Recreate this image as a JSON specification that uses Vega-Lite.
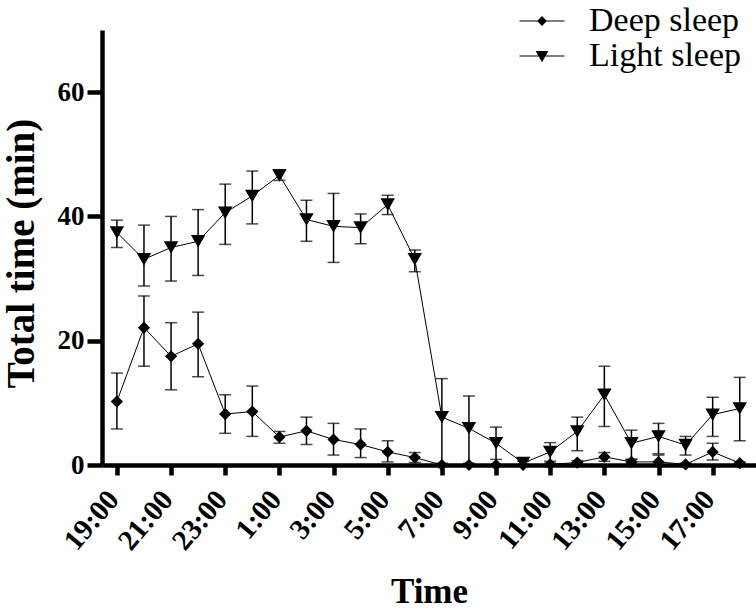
{
  "$schema": "https://vega.github.io/schema/vega-lite/v6.json",
  "width": 654,
  "height": 435,
  "autosize": {"type": "none"},
  "padding": {"left": 102, "top": 30, "right": 0, "bottom": 145},
  "background": "white",
  "config": {
    "font": "Liberation Serif",
    "view": {"stroke": null},
    "axis": {
      "labelFont": "Liberation Serif",
      "labelFontWeight": "bold",
      "labelFontSize": 27,
      "labelColor": "black",
      "titleFont": "Liberation Serif",
      "titleFontWeight": "bold",
      "titleColor": "black",
      "domainColor": "black",
      "domainWidth": 4.5,
      "tickColor": "black",
      "tickWidth": 4.5,
      "grid": false
    },
    "legend": {
      "labelFont": "Liberation Serif",
      "labelFontWeight": "normal",
      "labelFontSize": 34,
      "labelColor": "black"
    }
  },
  "data": {
    "values": [
      {"series": "Deep sleep", "t": 0, "v": 10.2, "lo": 5.8, "hi": 14.8},
      {"series": "Deep sleep", "t": 1, "v": 22.1, "lo": 15.9, "hi": 27.2},
      {"series": "Deep sleep", "t": 2, "v": 17.5, "lo": 12.1, "hi": 22.9},
      {"series": "Deep sleep", "t": 3, "v": 19.5, "lo": 14.2, "hi": 24.6},
      {"series": "Deep sleep", "t": 4, "v": 8.2, "lo": 5.1, "hi": 11.3},
      {"series": "Deep sleep", "t": 5, "v": 8.6, "lo": 4.6, "hi": 12.7},
      {"series": "Deep sleep", "t": 6, "v": 4.5, "lo": 3.5, "hi": 5.4},
      {"series": "Deep sleep", "t": 7, "v": 5.5, "lo": 3.3, "hi": 7.7},
      {"series": "Deep sleep", "t": 8, "v": 4.1, "lo": 1.6, "hi": 6.7},
      {"series": "Deep sleep", "t": 9, "v": 3.3, "lo": 1.2, "hi": 5.8},
      {"series": "Deep sleep", "t": 10, "v": 2.1, "lo": 0.5, "hi": 3.9},
      {"series": "Deep sleep", "t": 11, "v": 1.2, "lo": 0.4, "hi": 2.0},
      {"series": "Deep sleep", "t": 12, "v": 0, "lo": 0, "hi": 0},
      {"series": "Deep sleep", "t": 13, "v": 0, "lo": 0, "hi": 0},
      {"series": "Deep sleep", "t": 14, "v": 0, "lo": 0, "hi": 0},
      {"series": "Deep sleep", "t": 15, "v": 0, "lo": 0, "hi": 0},
      {"series": "Deep sleep", "t": 16, "v": 0.1, "lo": 0, "hi": 0.3},
      {"series": "Deep sleep", "t": 17, "v": 0.4, "lo": 0.1, "hi": 0.7},
      {"series": "Deep sleep", "t": 18, "v": 1.3, "lo": 0.6, "hi": 2.0},
      {"series": "Deep sleep", "t": 19, "v": 0.5, "lo": 0.1, "hi": 0.9},
      {"series": "Deep sleep", "t": 20, "v": 0.5, "lo": 0, "hi": 1.6},
      {"series": "Deep sleep", "t": 21, "v": 0.1, "lo": 0, "hi": 0.3},
      {"series": "Deep sleep", "t": 22, "v": 2.1, "lo": 0.8, "hi": 3.5},
      {"series": "Deep sleep", "t": 23, "v": 0.3, "lo": 0.1, "hi": 0.5},
      {"series": "Light sleep", "t": 0, "v": 37.4, "lo": 35.0, "hi": 39.4},
      {"series": "Light sleep", "t": 1, "v": 33.1, "lo": 28.8, "hi": 38.6},
      {"series": "Light sleep", "t": 2, "v": 35.0, "lo": 29.6, "hi": 40.0},
      {"series": "Light sleep", "t": 3, "v": 36.0, "lo": 30.5, "hi": 41.1},
      {"series": "Light sleep", "t": 4, "v": 40.6, "lo": 35.5, "hi": 45.2},
      {"series": "Light sleep", "t": 5, "v": 43.3, "lo": 38.8, "hi": 47.3},
      {"series": "Light sleep", "t": 6, "v": 46.6, "lo": 45.8, "hi": 47.5},
      {"series": "Light sleep", "t": 7, "v": 39.5, "lo": 36.0, "hi": 42.6},
      {"series": "Light sleep", "t": 8, "v": 38.4, "lo": 32.6, "hi": 43.7},
      {"series": "Light sleep", "t": 9, "v": 38.2, "lo": 35.6, "hi": 40.4},
      {"series": "Light sleep", "t": 10, "v": 41.9, "lo": 40.3, "hi": 43.4},
      {"series": "Light sleep", "t": 11, "v": 33.1, "lo": 31.1, "hi": 34.6},
      {"series": "Light sleep", "t": 12, "v": 7.7, "lo": 0.3, "hi": 13.9},
      {"series": "Light sleep", "t": 13, "v": 5.9, "lo": 0.3, "hi": 11.1},
      {"series": "Light sleep", "t": 14, "v": 3.5, "lo": 0.9, "hi": 6.1},
      {"series": "Light sleep", "t": 15, "v": 0.3, "lo": 0, "hi": 0.6},
      {"series": "Light sleep", "t": 16, "v": 2.1, "lo": 0.6, "hi": 3.6},
      {"series": "Light sleep", "t": 17, "v": 5.4, "lo": 2.3, "hi": 7.7},
      {"series": "Light sleep", "t": 18, "v": 11.3, "lo": 6.2, "hi": 15.9},
      {"series": "Light sleep", "t": 19, "v": 3.5, "lo": 0.9, "hi": 5.6},
      {"series": "Light sleep", "t": 20, "v": 4.6, "lo": 1.8, "hi": 6.7},
      {"series": "Light sleep", "t": 21, "v": 3.2, "lo": 1.6, "hi": 4.6},
      {"series": "Light sleep", "t": 22, "v": 8.1, "lo": 4.6, "hi": 10.9},
      {"series": "Light sleep", "t": 23, "v": 9.1, "lo": 3.9, "hi": 14.1}
    ]
  },
  "encoding": {
    "x": {
      "field": "t",
      "type": "quantitative",
      "title": "Time",
      "scale": {"domain": [-0.55, 23.6], "nice": false, "zero": false},
      "axis": {
        "values": [0, 2, 4, 6, 8, 10, 12, 14, 16, 18, 20, 22],
        "labelExpr": "((19 + datum.value) % 24) + ':00'",
        "labelAngle": -50,
        "labelAlign": "right",
        "labelBaseline": "middle",
        "labelFontSize": 29,
        "labelPadding": 19,
        "labelOffset": -4,
        "labelOverlap": false,
        "tickSize": 10,
        "titleFontSize": 35,
        "titleBaseline": "alphabetic",
        "titleY": 137
      }
    }
  },
  "layer": [
    {
      "mark": {"type": "line", "color": "black", "strokeWidth": 1},
      "encoding": {
        "y": {
          "field": "v",
          "type": "quantitative",
          "title": "Total time (min)",
          "scale": {"domain": [0, 70], "nice": false},
          "axis": {
            "values": [0, 20, 40, 60],
            "labelPadding": 3,
            "tickSize": 15,
            "titleFontSize": 39,
            "titleBaseline": "alphabetic",
            "titleAngle": -90,
            "titleX": -69,
            "titleY": 223,
            "titleAlign": "center"
          }
        },
        "detail": {"field": "series"}
      }
    },
    {
      "mark": {
        "type": "errorbar",
        "color": "black",
        "thickness": 1.5,
        "ticks": {"size": 12, "thickness": 1.5, "color": "black"}
      },
      "encoding": {
        "y": {"field": "lo", "type": "quantitative", "title": "Total time (min)"},
        "y2": {"field": "hi"},
        "detail": {"field": "series"}
      }
    },
    {
      "mark": {"type": "point", "filled": true, "color": "black", "opacity": 1},
      "encoding": {
        "y": {"field": "v", "type": "quantitative", "title": "Total time (min)"},
        "shape": {
          "field": "series",
          "type": "nominal",
          "scale": {"domain": ["Deep sleep", "Light sleep"], "range": ["diamond", "triangle-down"]},
          "legend": null
        },
        "size": {
          "field": "series",
          "type": "nominal",
          "scale": {"domain": ["Deep sleep", "Light sleep"], "range": [150, 210]},
          "legend": null
        }
      }
    },
    {
      "transform": [{"filter": "false"}],
      "mark": {"type": "point", "filled": true, "color": "black"},
      "encoding": {
        "y": {"field": "v", "type": "quantitative", "title": "Total time (min)"},
        "shape": {
          "field": "series",
          "type": "nominal",
          "title": null,
          "scale": {
            "domain": ["Deep sleep", "Light sleep"],
            "range": [
              "M-1.5,-0.04H1.5V0.04H-1.5ZM0,-0.33L0.33,0L0,0.33L-0.33,0Z",
              "M-1.5,-0.04H1.5V0.04H-1.5ZM-0.43,-0.33L0.43,-0.33L0,0.42Z"
            ]
          },
          "legend": {
            "orient": "none",
            "legendX": 423,
            "legendY": -26,
            "symbolSize": 900,
            "symbolOpacity": 1,
            "symbolFillColor": "black",
            "symbolStrokeColor": "black",
            "symbolStrokeWidth": 0,
            "labelFont": "Liberation Serif",
            "labelFontWeight": "normal",
            "labelFontSize": 34,
            "labelColor": "black",
            "labelOffset": 30,
            "rowPadding": 1,
            "labelLimit": 400
          }
        }
      }
    }
  ],
  "resolve": {"scale": {"shape": "independent", "size": "independent"}}
}
